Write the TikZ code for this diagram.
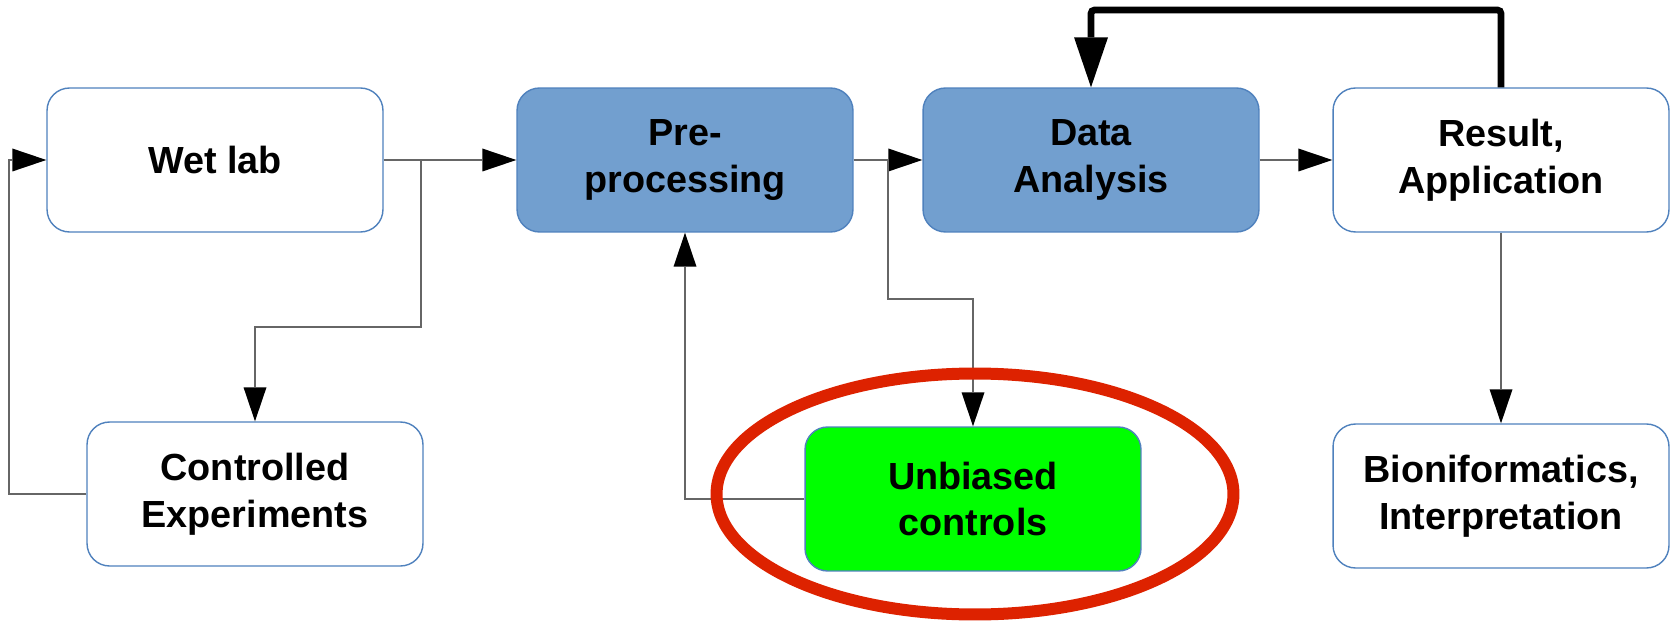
\documentclass[tikz,border=0pt]{standalone}
\usepackage{fontspec}
\setmainfont{Liberation Sans}
\usepackage{tikz}
\usetikzlibrary{arrows.meta}
\usetikzlibrary{shapes}

\definecolor{boxborder}{RGB}{79,129,189}
\definecolor{boxblue}{RGB}{114,159,207}
\definecolor{boxgreen}{RGB}{0,255,0}
\definecolor{ringred}{RGB}{221,34,0}

\tikzset{
    box/.style={draw=boxborder, line width=0.8pt, fill=white, rectangle, rounded corners=0.45cm,
        minimum width=6.72cm, minimum height=2.88cm, align=center,
        font=\fontsize{21.5}{26.5}\selectfont\bfseries},
    link/.style={draw=black!60, line width=0.85pt, -{Triangle[length=0.68cm, width=0.46cm, color=black, line width=0pt]}},
    backlink/.style={draw=black, line width=0.134cm, rounded corners=2pt,
        -{Triangle[length=1cm, width=0.68cm, color=black, line width=0pt]}},
}

\begin{document}
\begin{tikzpicture}[x=0.02cm, y=-0.02cm]
        \useasboundingbox (0,0) rectangle (1675,621);

        % top row
        \node[box] at (215,160) (wet) {Wet lab};
        \node[box, fill=boxblue] at (685,160) (pre) {Pre-\\processing};
        \node[box, fill=boxblue] at (1091,160) (dat) {Data\\Analysis};
        \node[box] at (1501,160) (res) {Result,\\Application};

        % bottom row
        \node[box] at (255,494) (ctrl) {Controlled\\Experiments};
        \node[box, fill=boxgreen] at (973,499) (unb) {Unbiased\\controls};
        \node[box] at (1501,496) (bio) {Bioniformatics,\\Interpretation};

        % bends
        \coordinate (wetbend) at (421,327);
        \coordinate (ctrlbend) at (9,300);
        \coordinate (prebend) at (888,299);
        \coordinate (loop) at (1300,10);

        \draw[link] (wet) -- (pre);
        \draw[link] (wet.east) -| (wetbend) -| (ctrl.north);
        \draw[link] (ctrl.west) -| (ctrlbend) |- (wet.west);
        \draw[link] (pre) -- (dat);
        \draw[link] (pre.east) -| (prebend) -| (unb.north);
        \draw[link] (unb.west) -| (pre.south);
        \draw[link] (dat) -- (res);
        \draw[link] (res) -- (bio);
        \draw[backlink] (res.north) |- (loop) -| (dat.north);

        % highlight
        \draw[ringred, line width=0.24cm] (975,494) ellipse [x radius=5.17cm, y radius=2.41cm];
    \end{tikzpicture}
\end{document}
